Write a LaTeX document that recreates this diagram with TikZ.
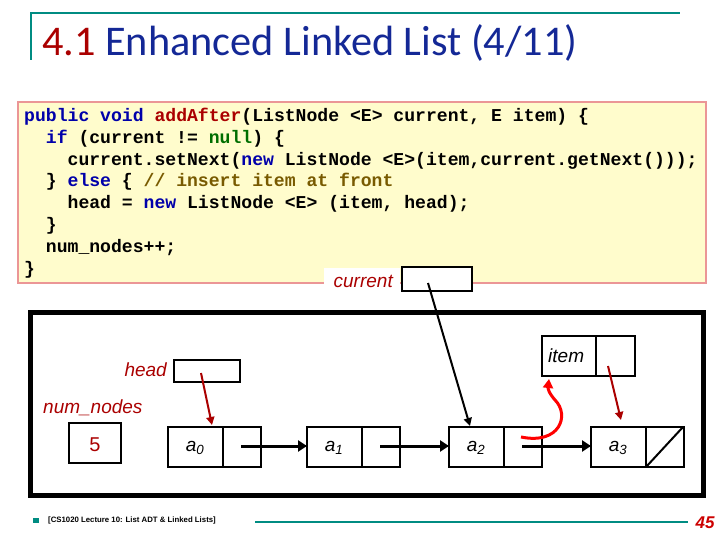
\documentclass[tikz,border=0pt]{standalone}
\usepackage{fontspec}
\setmainfont{Liberation Sans}
\newfontfamily\codef{Liberation Mono}
\newfontfamily\titlef{Carlito}
\usetikzlibrary{arrows.meta}
\definecolor{teal1}{RGB}{0,140,130}
\definecolor{dred}{RGB}{170,0,0}
\definecolor{tblue}{RGB}{20,40,150}
\definecolor{kw}{RGB}{0,0,170}
\definecolor{ng}{RGB}{0,110,0}
\definecolor{cm}{RGB}{120,90,0}
\definecolor{cbg}{RGB}{255,252,204}
\definecolor{cbd}{RGB}{235,150,150}
\begin{document}
\begin{tikzpicture}[x=1pt,y=-1pt,
  box/.style={draw=black,line width=2pt},
  lab/.style={font=\fontsize{19}{19}\selectfont\itshape,text=dred,inner sep=0pt},
  ptr/.style={line width=2pt,-{Triangle[length=8pt,width=8pt]}},
  nxt/.style={line width=3pt,-{Triangle[length=9pt,width=11pt]}},
  cl/.style={anchor=base west,inner sep=0pt,font=\codef\bfseries\fontsize{18.1}{18}\selectfont}]
\useasboundingbox (0,0) rectangle (720,540);
% title
\draw[teal1,line width=2pt] (31,60) -- (31,13) -- (680,13);
\node[anchor=base west,inner sep=0pt,font=\titlef\fontsize{42.3}{43}\selectfont] (title) at (42,56) {\textcolor{dred}{4.1}\ \textcolor{tblue}{Enhanced Linked List (4/11)}};
% code box
\draw[fill=cbg,draw=cbd,line width=2.5pt] (18,102) rectangle (706,283);
\node[cl] (l1) at (24,122) {\textcolor{kw}{public void} \textcolor{dred}{addAfter}(ListNode <E> current, E item) \{};
\node[cl] (l2) at (24,144) {\ \ \textcolor{kw}{if} (current != \textcolor{ng}{null}) \{};
\node[cl] (l3) at (24,166) {\ \ \ \ current.setNext(\textcolor{kw}{new} ListNode <E>(item,current.getNext()));};
\node[cl] (l4) at (24,187) {\ \ \} \textcolor{kw}{else} \{ \textcolor{cm}{// insert item at front}};
\node[cl] (l5) at (24,209) {\ \ \ \ head = \textcolor{kw}{new} ListNode <E> (item, head);};
\node[cl] (l6) at (24,230) {\ \ \}};
\node[cl] (l7) at (24,252) {\ \ num\_nodes++;};
\node[cl] (l8) at (24,274) {\}};
% current
\fill[white] (324,268) rectangle (400,292);
\node[lab,anchor=east] (curl) at (393,281) {current};
\draw[box,fill=white] (402,267) rectangle (472,291);
\coordinate (curp) at (428,283);
% outer
\draw[line width=5pt] (30,312) rectangle (703,495);
% head
\node[lab,anchor=east] (headl) at (167,370) {head};
\draw[box] (174,360) rectangle (240,382);
\coordinate (headp) at (201,373);
\node[lab,anchor=west] (numl) at (43,408) {num\_nodes};
\draw[box] (69,423) rectangle (121,463);
\node[font=\fontsize{20}{20}\selectfont,text=dred] (five) at (95,445) {5};
% nodes
\foreach \n/\x/\s in {a0/168/0,a1/307/1,a2/449/2,a3/591/3}{
  \draw[box] (\x,427) rectangle ++(93,40);
  \draw[box] (\x+55,427) -- ++(0,40);
  \node[font=\fontsize{19}{19}\selectfont\itshape] (\n) at (\x+27,448) {a\textsubscript{\s}};
  \coordinate (\n in) at (\x,446);
  \coordinate (\n p) at (\x+73,446);
}
\draw[line width=2pt] (646,467) -- (683,427);
\draw[nxt] (a0p) -- (a1in);
\draw[nxt] (a1p) -- (a2in);
\draw[nxt] (a2p) -- (a3in);
% item
\draw[box] (542,336) rectangle (635,376);
\draw[box] (596,336) -- (596,376);
\node[font=\fontsize{19}{19}\selectfont\itshape,anchor=west,inner sep=0pt] (iteml) at (548,356) {item};
\coordinate (itemp) at (608,366);
\coordinate (a3top) at (621,420);
\coordinate (a0top) at (212,425);
\coordinate (a2top) at (470,426);
\draw[ptr,dred] (headp) -- (a0top);
\draw[ptr,dred] (itemp) -- (a3top);
\draw[ptr] (curp) -- (a2top);
\coordinate (cs) at (521,437);
\coordinate (ce) at (549,379);
\draw[red,line width=3pt,-{Triangle[length=9pt,width=10pt]}] (cs) .. controls (560,445) and (570,415) .. (555,400) .. controls (548,392) and (548,388) .. (ce);
% footer
\fill[teal1] (33,518) rectangle (39,523);
\node[anchor=west,inner sep=0pt,font=\fontsize{7.8}{8}\selectfont\bfseries] (foot) at (48,520) {[CS1020 Lecture 10: List ADT \& Linked Lists]};
\draw[teal1,line width=2.5pt] (255,522) -- (688,522);
\node[font=\fontsize{17}{17}\selectfont\bfseries\itshape,text=red!80!black] (pg) at (705,523) {45};
\end{tikzpicture}
\end{document}
